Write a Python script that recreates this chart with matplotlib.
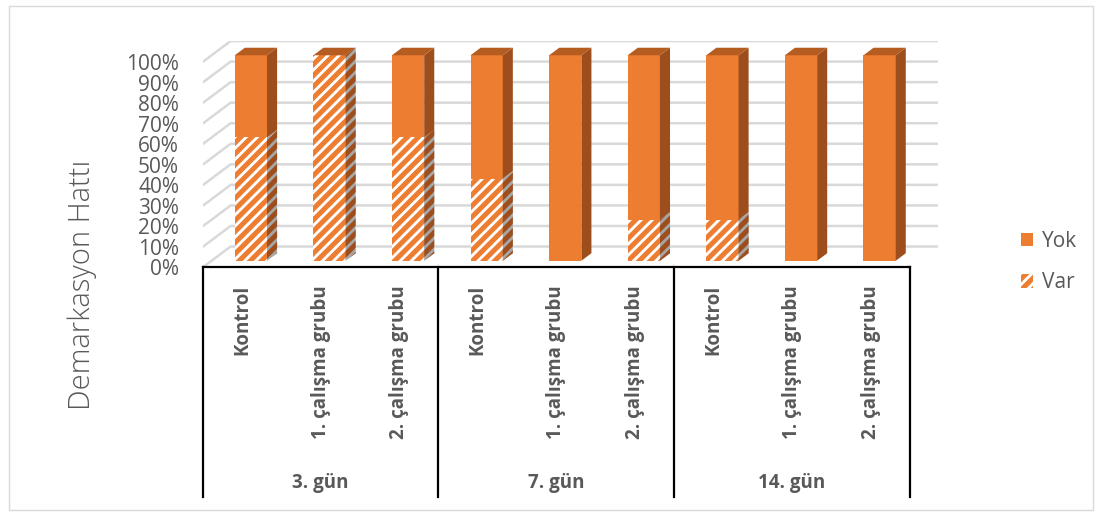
import matplotlib
matplotlib.use("Agg")
import matplotlib.pyplot as plt
from matplotlib.patches import Polygon, Patch, Rectangle

# -----------------------------------------
# DATA
# -----------------------------------------
categories = ["Kontrol", "1. çalışma grubu", "2. çalışma grubu"] * 3
groups = ["3. gün", "7. gün", "14. gün"]
var_values = [60, 100, 60, 40, 0, 20, 20, 0, 0]
yok_values = [100 - v for v in var_values]
y_ticks = list(range(0, 101, 10))

# -----------------------------------------
# STYLE
# -----------------------------------------
ORANGE = "#ED7D31"
ORANGE_SIDE = "#9E4E1C"
ORANGE_TOP = "#B55C21"
GRAY_SIDE = "#A6A6A6"
GRID = "#D9D9D9"
TEXT = "#595959"
HATCH = "///"

plt.rcParams["font.family"] = ["Open Sans", "DejaVu Sans"]
plt.rcParams["hatch.linewidth"] = 3.6

# depth of the 3d box (in data units), bar front/back depth fraction
DX = 0.356
DY = 10.2
A = 0.32
B = 0.68
W = 0.41

fig = plt.figure(figsize=(11.02, 5.16), dpi=100)
ax = fig.add_axes([0.1839, 0.0368, 0.6672, 0.8837])
ax.set_xlim(-0.5, 8.5 + DX)
ax.set_ylim(-111.7, 100 + DY)
for s in ax.spines.values():
    s.set_visible(False)
ax.set_xticks([])
ax.set_yticks(y_ticks)
ax.set_yticklabels([f"{t}%" for t in y_ticks], fontsize=15, color=TEXT)
ax.tick_params(axis="y", length=0, pad=17)

n = len(var_values)

# -----------------------------------------
# GRIDLINES (side wall + back wall)
# -----------------------------------------
for t in y_ticks:
    ax.plot([-0.5, -0.5 + DX, n - 0.5 + DX], [t, t + DY, t + DY],
            color=GRID, lw=1.8, zorder=1, solid_capstyle="butt")

# -----------------------------------------
# BARS
# -----------------------------------------
x = list(range(n))
xf = [i + A * DX for i in x]

ax.bar(xf, var_values, width=W, bottom=A * DY, color="white",
       edgecolor=ORANGE, linewidth=0, hatch=HATCH, zorder=3)
ax.bar(xf, yok_values, width=W, bottom=[v + A * DY for v in var_values],
       color=ORANGE, linewidth=0, zorder=3)

for i in x:
    xr = i + W / 2
    segs = [(0, var_values[i], GRAY_SIDE, HATCH),
            (var_values[i], 100, ORANGE_SIDE, None)]
    for y0, y1, col, h in segs:
        if y1 <= y0:
            continue
        pts = [(xr + A * DX, y0 + A * DY), (xr + B * DX, y0 + B * DY),
               (xr + B * DX, y1 + B * DY), (xr + A * DX, y1 + A * DY)]
        if h:
            ax.add_patch(Polygon(pts, closed=True, facecolor=col,
                                 edgecolor=ORANGE_SIDE, hatch=h,
                                 linewidth=0, zorder=3))
        else:
            ax.add_patch(Polygon(pts, closed=True, facecolor=col,
                                 linewidth=0, zorder=3))
    # top face
    xl = i - W / 2
    top = [(xl + A * DX, 100 + A * DY), (xr + A * DX, 100 + A * DY),
           (xr + B * DX, 100 + B * DY), (xl + B * DX, 100 + B * DY)]
    ax.add_patch(Polygon(top, closed=True, facecolor=ORANGE_TOP,
                         linewidth=0, zorder=3))

# -----------------------------------------
# CATEGORY TABLE
# -----------------------------------------
ax.plot([-0.5, n - 0.5], [0, 0], color="black", lw=1.6, zorder=4,
        clip_on=False)
for k in range(len(groups) + 1):
    xs = -0.5 + 3 * k
    ax.plot([xs, xs], [0, -111.7], color="black", lw=1.6, zorder=4,
            clip_on=False)

for i, c in enumerate(categories):
    ax.text(i, -8.5, c, rotation=90, ha="center", va="top",
            fontsize=13.5, fontweight="bold", color=TEXT)

for k, g in enumerate(groups):
    ax.text(3 * k + 1, -105, g, ha="center", va="center",
            fontsize=13.5, fontweight="bold", color=TEXT)

# -----------------------------------------
# AXIS TITLE + LEGEND
# -----------------------------------------
fig.text(82 / 1102, 1 - 285 / 516, "Demarkasyon Hattı", rotation=90,
         ha="center", va="center", fontsize=21, fontweight="light",
         color=TEXT)

handles = [Patch(facecolor=ORANGE, linewidth=0, label="Yok"),
           Patch(facecolor="white", edgecolor=ORANGE, hatch=HATCH,
                 linewidth=0, label="Var")]
fig.legend(handles=handles, loc="center left",
           bbox_to_anchor=(1002 / 1102, 1 - 262 / 516), frameon=False,
           fontsize=15, labelcolor=TEXT, labelspacing=1.0,
           handlelength=0.6, handleheight=0.6, handletextpad=0.4)

# chart border
fig.patches.append(Rectangle((9 / 1102, 6 / 516), 1 - 18 / 1102,
                             1 - 12 / 516, transform=fig.transFigure,
                             fill=False, edgecolor="#D9D9D9", lw=1))

fig.savefig("out.png", dpi=100)
plt.close(fig)
